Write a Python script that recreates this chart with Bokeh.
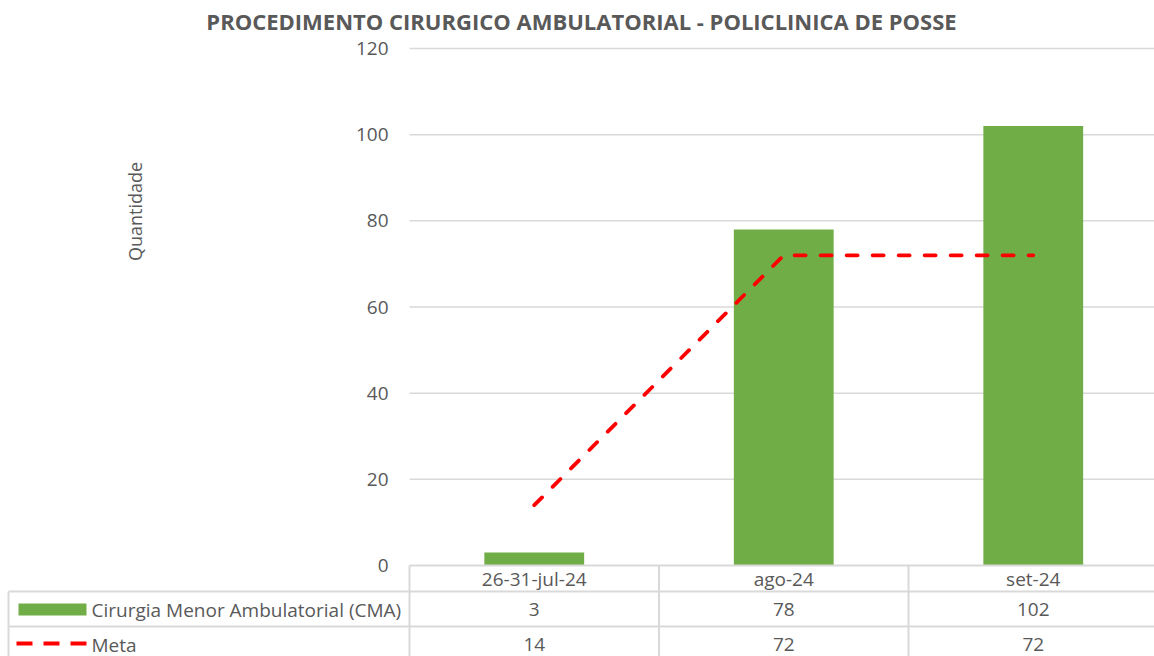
from bokeh.plotting import figure
from bokeh.models import Range1d, LinearAxis, FixedTicker
from bokeh.core.properties import value
from bokeh.embed import file_html
from bokeh.resources import INLINE
import math

# ---- data ----
categories = ["26-31-jul-24", "ago-24", "set-24"]
cma_name = "Cirurgia Menor Ambulatorial (CMA)"
cma_values = [3, 78, 102]
meta_name = "Meta"
meta_values = [14, 72, 72]
y_ticks = [0, 20, 40, 60, 80, 100, 120]
title_text = "PROCEDIMENTO CIRURGICO AMBULATORIAL - POLICLINICA DE POSSE"
y_label = "Quantidade"

GREEN = "#70AD47"
RED = "#FF0000"
TXT = "#595959"
GRID = "#D9D9D9"
FONT = "Open Sans"
FS = "19px"

W, H = 1154, 656
# pixel geometry of the plot area
PX_LEFT, PX_ZERO, PX_TOP, CAT_W = 409.0, 565.0, 48.0, 249.5
Y_SCALE = (PX_ZERO - PX_TOP) / 120.0

x_start = (0 - PX_LEFT) / CAT_W
x_end = (W - PX_LEFT) / CAT_W
y_start = (PX_ZERO - H) / Y_SCALE
y_end = PX_ZERO / Y_SCALE

p = figure(width=W, height=H, output_backend="svg", toolbar_location=None,
           x_range=Range1d(x_start, x_end), y_range=Range1d(y_start, y_end),
           x_axis_type=None, y_axis_type=None,
           min_border=0, min_border_left=0, min_border_right=0,
           min_border_top=0, min_border_bottom=0)
p.outline_line_color = None
p.grid.visible = False
p.background_fill_color = "white"
p.border_fill_color = "white"
# pixel ranges for layout elements
p.extra_x_ranges = {"px": Range1d(0, W)}
p.extra_y_ranges = {"px": Range1d(H, 0)}

ncat = len(categories)
xs = [i + 0.5 for i in range(ncat)]

# gridlines (above zero)
gt = [t for t in y_ticks if t > 0]
p.segment(x0=[0] * len(gt), x1=[ncat] * len(gt), y0=gt, y1=gt,
          line_color=GRID, line_width=1.5)

# bars
p.vbar(x=xs, top=cma_values, bottom=0, width=0.4, fill_color=GREEN, line_color=None)

# meta line
p.line(x=xs, y=meta_values, line_color=RED, line_width=3.8,
       line_dash="11 15", line_cap="round")

# y axis (fixed at x=0)
yaxis = LinearAxis(fixed_location=0, ticker=FixedTicker(ticks=y_ticks))
yaxis.axis_line_color = None
yaxis.major_tick_line_color = None
yaxis.minor_tick_line_color = None
yaxis.major_tick_in = 0
yaxis.major_tick_out = 0
yaxis.major_label_standoff = 21
yaxis.major_label_text_font = FONT
yaxis.major_label_text_font_size = FS
yaxis.major_label_text_color = TXT
p.add_layout(yaxis, "left")

# ---- data table ----
BORDER = "#D9D9D9"
BW = 2
x_right_px = W + 10
# horizontal lines
p.segment(x0=[PX_LEFT, 8, 8], x1=[x_right_px] * 3, y0=[565, 591, 626], y1=[565, 591, 626],
          line_color=BORDER, line_width=BW, x_range_name="px", y_range_name="px")
# vertical lines
p.segment(x0=[8], x1=[8], y0=[591], y1=[H + 10], line_color=BORDER, line_width=BW,
          x_range_name="px", y_range_name="px")
vb = list(range(ncat + 1))
p.segment(x0=vb, x1=vb, y0=[565] * len(vb), y1=[H + 10] * len(vb), line_color=BORDER,
          line_width=BW, y_range_name="px")

# category row
p.text(x=xs, y=[578] * ncat, text=categories, text_align="center", text_baseline="middle",
       text_font=value(FONT), text_font_size=FS, text_color=TXT, y_range_name="px")
# values rows
p.text(x=xs, y=[609] * ncat, text=[str(v) for v in cma_values], text_align="center",
       text_baseline="middle", text_font=value(FONT), text_font_size=FS,
       text_color=TXT, y_range_name="px")
p.text(x=xs, y=[644] * ncat, text=[str(v) for v in meta_values], text_align="center",
       text_baseline="middle", text_font=value(FONT), text_font_size=FS,
       text_color=TXT, y_range_name="px")

# legend keys in the table
p.quad(left=[18], right=[86], top=[603], bottom=[615], fill_color=GREEN, line_color=None,
       x_range_name="px", y_range_name="px")
p.segment(x0=[16], x1=[87], y0=[643], y1=[643], line_color=RED, line_width=4,
          line_dash="16 11", x_range_name="px", y_range_name="px")
p.text(x=[91, 91], y=[609, 644], text=[cma_name, meta_name], text_align="left",
       text_baseline="middle", text_font=value(FONT), text_font_size=FS,
       text_color=TXT, x_range_name="px", y_range_name="px")

# title
p.text(x=[581], y=[20], text=[title_text], text_align="center", text_baseline="middle",
       text_font=value(FONT), text_font_size="22px", text_font_style="bold",
       text_color=TXT, x_range_name="px", y_range_name="px")

# y axis label
p.text(x=[134], y=[211], text=[y_label], angle=math.pi / 2, text_align="center",
       text_baseline="middle", text_font=value(FONT), text_font_size="18px",
       text_color=TXT, x_range_name="px", y_range_name="px")

open("out.html", "w").write(file_html(p, INLINE))
